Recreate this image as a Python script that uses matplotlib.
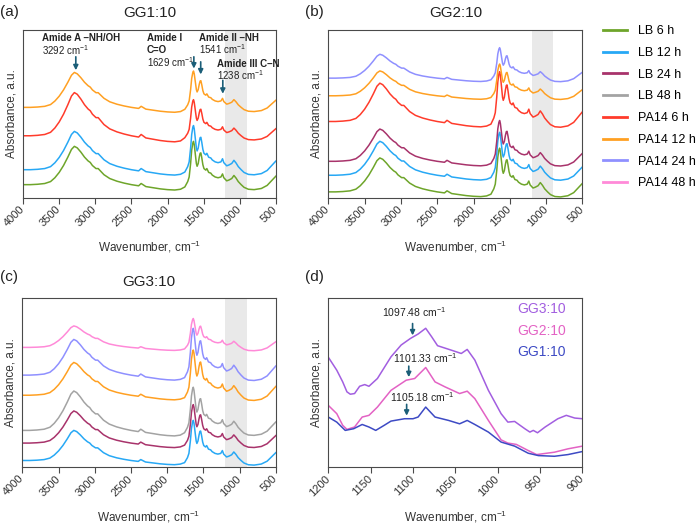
"""FTIR spectra of GG hydrogels exposed to LB / PA14, four panels."""

import numpy as np
import matplotlib

matplotlib.use("Agg")
import matplotlib.pyplot as plt
from matplotlib.lines import Line2D

plt.rcParams["font.family"] = ["Liberation Sans", "DejaVu Sans"]
plt.rcParams["mathtext.fontset"] = "custom"
plt.rcParams["mathtext.rm"] = "Liberation Sans"
plt.rcParams["mathtext.it"] = "Liberation Sans:italic"
plt.rcParams["mathtext.bf"] = "Liberation Sans:bold"

# series colours (legend order)
SERIES = ["LB 6 h", "LB 12 h", "LB 24 h", "LB 48 h",
          "PA14 6 h", "PA14 12 h", "PA14 24 h", "PA14 48 h"]
COLORS = ["#6ea52a", "#27a8f5", "#a8336b", "#a3a3a3",
          "#ff3b2b", "#ffa022", "#8f90ff", "#ff8ad8"]

# shared spectral shape (relative units, amide A peak = 1)
PROFILE_WN = [4000, 3900, 3800, 3700, 3620, 3560, 3500, 3440, 3380, 3330,
              3290, 3250, 3200, 3150, 3100, 3070, 3040, 2990, 2960, 2930,
              2880, 2800, 2700, 2600, 2500, 2400, 2365, 2340, 2300, 2200,
              2100, 2000, 1900, 1820, 1760, 1720, 1700, 1680, 1665, 1650,
              1640, 1630, 1615, 1600, 1590, 1575, 1560, 1548, 1538, 1525,
              1510, 1495, 1470, 1455, 1430, 1400, 1380, 1340, 1300, 1260,
              1238, 1220, 1180, 1150, 1110, 1080, 1050, 1020, 980, 940,
              880, 800, 700, 620, 560, 500]
PROFILE_REL = [0.00, 0.00, 0.01, 0.03, 0.08, 0.18, 0.32, 0.50, 0.72, 0.92,
               1.00, 0.96, 0.85, 0.72, 0.62, 0.58, 0.50, 0.42, 0.42, 0.36,
               0.26, 0.16, 0.09, 0.04, 0.00, -0.03, 0.03, 0.00, -0.05, -0.08,
               -0.11, -0.13, -0.14, -0.12, -0.06, 0.08, 0.20, 0.55, 0.90, 1.08,
               1.13, 1.05, 0.80, 0.55, 0.48, 0.55, 0.72, 0.82, 0.83, 0.70,
               0.52, 0.42, 0.38, 0.42, 0.32, 0.30, 0.25, 0.20, 0.18, 0.20,
               0.28, 0.18, 0.10, 0.12, 0.16, 0.24, 0.17, 0.08, 0.00, -0.07,
               -0.12, -0.13, -0.10, -0.02, 0.10, 0.22]

# per-curve baseline, amide A height and fingerprint-region ratio (bottom to top)
A_SERIES = ["LB 6 h", "LB 12 h", "PA14 6 h", "PA14 12 h"]
A_OFFSET = [7.9, 16.8, 37.0, 53.9]
A_SCALE = [22.8, 22.8, 25.7, 20.8]
A_AMIDE = [1.00, 1.02, 0.74, 0.92]

B_SERIES = ["LB 6 h", "LB 12 h", "LB 24 h", "PA14 6 h", "PA14 12 h", "PA14 24 h"]
B_OFFSET = [3.6, 13.5, 21.8, 45.5, 60.8, 71.3]
B_SCALE = [20.2, 20.2, 19.2, 22.8, 14.8, 14.2]
B_AMIDE = [1.14, 1.12, 1.12, 1.15, 1.13, 1.13]

C_SERIES = ["LB 12 h", "LB 24 h", "LB 48 h", "PA14 12 h", "PA14 24 h", "PA14 48 h"]
C_OFFSET = [4.0, 14.3, 21.8, 42.6, 54.5, 70.9]
C_SCALE = [17.8, 19.0, 23.3, 19.4, 21.1, 12.7]
C_AMIDE = [1.18, 1.06, 0.97, 1.22, 1.16, 1.19]

# panel (d): 1200-900 cm-1 zoom
D_WN_GG3 = [1200, 1190, 1183, 1178, 1174, 1169, 1163, 1157, 1152, 1142,
            1126, 1114, 1103, 1094, 1085, 1078, 1071, 1055, 1043, 1036,
            1027, 1011, 996, 988, 980, 968, 962, 958, 953, 944,
            929, 919, 909, 900]
D_GG3 = [65.1, 57.4, 50.5, 44.6, 43.2, 43.6, 47.9, 48.9, 47.9, 52.5,
         65.3, 72.3, 76.2, 78.8, 82.2, 77.2, 71.9, 69.3, 67.3, 69.7,
         63.4, 45.5, 31.7, 26.7, 27.1, 22.8, 20.8, 21.8, 20.4, 23.8,
         28.7, 30.7, 29.1, 28.7]
D_WN_GG2 = [1200, 1190, 1183, 1178, 1169, 1160, 1152, 1142, 1126, 1108,
            1098, 1085, 1074, 1062, 1045, 1036, 1027, 1011, 996, 988,
            978, 964, 954, 933, 917, 900]
D_GG2 = [36.6, 31.7, 24.8, 22.4, 23.8, 29.7, 30.7, 35.6, 45.5, 51.5,
         52.5, 59.0, 50.5, 47.5, 43.6, 45.0, 40.6, 27.7, 16.2, 14.3,
         13.5, 9.9, 7.5, 8.9, 10.9, 12.5]
D_WN_GG1 = [1200, 1190, 1180, 1170, 1160, 1152, 1144, 1134, 1126, 1110,
            1100, 1094, 1085, 1074, 1058, 1045, 1036, 1027, 1011, 996,
            980, 964, 952, 933, 917, 900]
D_GG1 = [29.7, 26.7, 21.8, 22.8, 25.3, 23.8, 21.8, 24.8, 27.3, 28.7,
         28.7, 29.7, 35.6, 29.7, 27.7, 25.7, 27.7, 25.3, 20.8, 14.9,
         12.5, 8.3, 6.9, 6.5, 7.5, 9.3]
D_LABELS = ["GG3:10", "GG2:10", "GG1:10"]
D_COLORS = ["#a25ee0", "#e362c4", "#3d4ac4"]

ARROW_C = "#1b5e78"
SPINE_C = "#4a4a4a"
XLABEL = "Wavenumber, cm$^{-1}$"


def _spectrum(offset, scale, amide):
    wn = np.asarray(PROFILE_WN, dtype=float)
    rel = np.asarray(PROFILE_REL, dtype=float)
    factor = np.where(wn > 1780, 1.0, amide)
    return wn, offset + scale * rel * factor


def _style(ax, xmin, xmax, step, shade=True):
    ax.set_xlim(xmin, xmax)
    ax.set_ylim(0, 100)
    ax.set_yticks([])
    ticks = np.arange(xmin, xmax - 1, -step)
    ax.set_xticks(ticks)
    ax.set_xticklabels([str(int(t)) for t in ticks], rotation=45, ha="right",
                       va="center", rotation_mode="anchor", fontsize=8,
                       color="#333333")
    ax.tick_params(axis="x", direction="out", length=4, width=0.8,
                   color=SPINE_C, pad=3)
    for s in ax.spines.values():
        s.set_color(SPINE_C)
        s.set_linewidth(0.8)
    ax.set_ylabel("Absorbance, a.u.", fontsize=8.5, color="#333333")
    ax.yaxis.set_label_coords(-0.024, 0.5)
    ax.set_xlabel(XLABEL, fontsize=8.5, color="#333333")
    ax.xaxis.set_label_coords(0.5, -0.245)
    if shade:
        ax.axvspan(1200, 900, color="#e9e9e9", zorder=0, lw=0)


def _panel(ax, names, offsets, scales, amides, title):
    _style(ax, 4000, 500, 500)
    for name, off, sc, am in zip(names, offsets, scales, amides):
        wn, y = _spectrum(off, sc, am)
        ax.plot(wn, y, color=COLORS[SERIES.index(name)], lw=1.1)
    ax.set_title(title, fontsize=11, pad=9, color="#222222")


def _arrow(ax, x, y_tail, y_tip):
    ax.annotate("", xy=(x, y_tip), xytext=(x, y_tail),
                arrowprops=dict(arrowstyle="-|>", color=ARROW_C, lw=1.2,
                                mutation_scale=7, shrinkA=0, shrinkB=0))


fig = plt.figure(figsize=(7.0, 5.25), dpi=100)
ax_a = fig.add_axes((0.033, 0.623, 0.361, 0.320))
ax_b = fig.add_axes((0.469, 0.623, 0.363, 0.320))
ax_c = fig.add_axes((0.032, 0.110, 0.362, 0.322))
ax_d = fig.add_axes((0.469, 0.110, 0.363, 0.322))

_panel(ax_a, A_SERIES, A_OFFSET, A_SCALE, A_AMIDE, "GG1:10")
_panel(ax_b, B_SERIES, B_OFFSET, B_SCALE, B_AMIDE, "GG2:10")
_panel(ax_c, C_SERIES, C_OFFSET, C_SCALE, C_AMIDE, "GG3:10")

# panel (a) band annotations
txt = dict(fontsize=7, color="#222222", va="center")
ax_a.text(3740, 95, "Amide A \u2013NH/OH", fontweight="bold", **txt)
ax_a.text(3740, 88, "3292 cm$^{-1}$", **txt)
ax_a.text(2285, 95, "Amide I", fontweight="bold", **txt)
ax_a.text(2285, 88, "C=O", fontweight="bold", **txt)
ax_a.text(2285, 81, "1629 cm$^{-1}$", **txt)
ax_a.text(1566, 95, "Amide II \u2013NH", fontweight="bold", **txt)
ax_a.text(1566, 88.5, "1541 cm$^{-1}$", **txt)
ax_a.text(1317, 80, "Amide III C\u2013N", fontweight="bold", **txt)
ax_a.text(1317, 73, "1238 cm$^{-1}$", **txt)
_arrow(ax_a, 3270, 84.0, 76.0)
_arrow(ax_a, 1635, 84.0, 77.0)
_arrow(ax_a, 1540, 81.0, 73.5)
_arrow(ax_a, 1234, 70.0, 62.0)

# panel (d)
_style(ax_d, 1200, 900, 50, shade=False)
ax_d.plot(D_WN_GG3, D_GG3, color=D_COLORS[0], lw=1.1)
ax_d.plot(D_WN_GG2, D_GG2, color=D_COLORS[1], lw=1.1)
ax_d.plot(D_WN_GG1, D_GG1, color=D_COLORS[2], lw=1.1)
for lab, col, yy in zip(D_LABELS, D_COLORS, [0.935, 0.808, 0.683]):
    ax_d.text(0.935, yy, lab, transform=ax_d.transAxes, ha="right",
              va="center", fontsize=10, color=col)
ax_d.text(1098.4, 91.5, "1097.48 cm$^{-1}$", ha="center", va="center",
          fontsize=7.5, color="#222222")
ax_d.text(1085.3, 64.4, "1101.33 cm$^{-1}$", ha="center", va="center",
          fontsize=7.5, color="#222222")
ax_d.text(1089.3, 41.6, "1105.18 cm$^{-1}$", ha="center", va="center",
          fontsize=7.5, color="#222222")
_arrow(ax_d, 1100.5, 85.0, 78.0)
_arrow(ax_d, 1105.0, 59.8, 53.3)
_arrow(ax_d, 1107.5, 37.2, 30.5)

# panel letters
for lab, y in [("(a)", 0.977), ("(b)", 0.977), ("(c)", 0.472), ("(d)", 0.472)]:
    x = 0.0 if lab in ("(a)", "(c)") else 0.435
    fig.text(x, y, lab, fontsize=11, va="center", ha="left", color="#222222")

handles = [Line2D([], [], color=c, lw=2) for c in COLORS]
fig.legend(handles, SERIES, loc="upper left", bbox_to_anchor=(0.862, 0.952),
           frameon=False, fontsize=9, handlelength=1.9, handletextpad=0.9,
           labelspacing=0.78, borderpad=0, borderaxespad=0)

fig.savefig("out.png", dpi=100)
